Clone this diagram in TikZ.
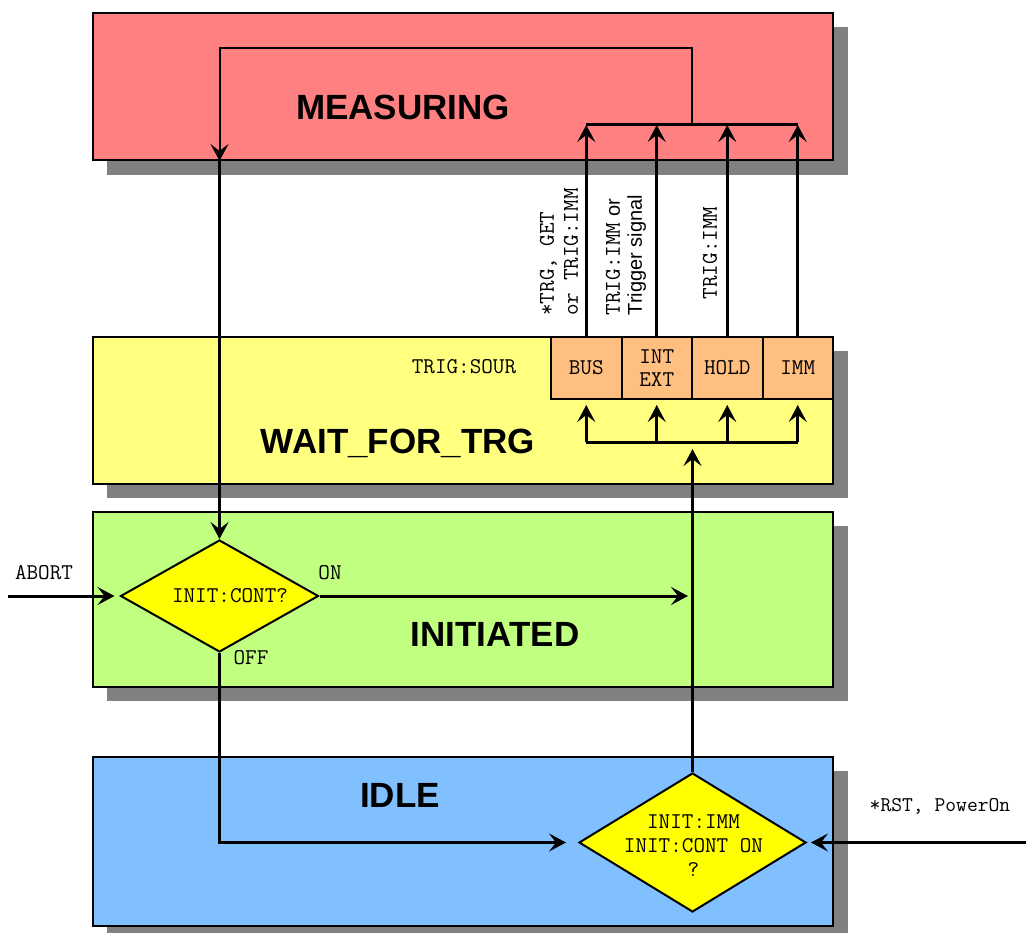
\documentclass[tikz,border=0pt]{standalone}
\usepackage{fontspec}
\setsansfont{Liberation Sans}
\usetikzlibrary{arrows.meta,shapes.geometric}
\definecolor{measred}{HTML}{FF8080}
\definecolor{waityellow}{HTML}{FFFF80}
\definecolor{initgreen}{HTML}{C0FF80}
\definecolor{idleblue}{HTML}{80C0FF}
\definecolor{diamondyellow}{HTML}{FFFF00}
\definecolor{trigorange}{HTML}{FFBF80}
\definecolor{shadowgray}{HTML}{808080}
\tikzset{
  statebox/.style={draw=black, line width=2pt, minimum width=740pt, inner sep=0pt},
  titletext/.style={font=\sffamily\bfseries\fontsize{35}{42}\selectfont},
  mono/.style={font=\ttfamily\fontsize{22.5}{24}\selectfont},
  conn/.style={line width=3pt},
  loopline/.style={line width=2pt},
  arr/.style={-{Stealth[length=17pt,width=18pt,inset=7pt]}},
  trigbox/.style={draw, line width=2pt, fill=trigorange, minimum width=70.5pt, minimum height=62pt, inner sep=0pt, mono},
  decision/.style={diamond, draw, line width=2pt, fill=diamondyellow, inner sep=0pt},
}
\begin{document}
\begin{tikzpicture}[x=1pt,y=-1pt]
\useasboundingbox (0,0) rectangle (1026,933);
% shadows
\fill[shadowgray] (107,27) rectangle (848,175);
\fill[shadowgray] (107,351) rectangle (848,498);
\fill[shadowgray] (107,526) rectangle (848,701);
\fill[shadowgray] (107,771) rectangle (848,945);
% state boxes
\node[statebox, fill=measred, minimum height=147pt] (meas) at (463,86.5) {};
\node[statebox, fill=waityellow, minimum height=147pt] (wait) at (463,410.5) {};
\node[statebox, fill=initgreen, minimum height=175pt] (init) at (463,599.5) {};
\node[statebox, fill=idleblue, minimum height=169pt] (idle) at (463,841.5) {};
% titles
\node[titletext] (tmeas) at (403,107) {MEASURING};
\node[titletext] (twait) at (398,443) {WAIT\_FOR\_TRG};
\node[titletext] (tinit) at (495,634) {INITIATED};
\node[titletext] (tidle) at (400,795) {IDLE};
% trigger source
\node[mono] (sour) at (464,367) {TRIG:SOUR};
\node[trigbox] (bus) at (586.25,368) {BUS};
\node[trigbox, align=center, font=\ttfamily\fontsize{22.5}{23}\selectfont] (intext) at (656.75,368) {INT\\EXT};
\node[trigbox] (hold) at (727.25,368) {HOLD};
\node[trigbox] (imm) at (797.75,368) {IMM};
% decisions
\node[decision, minimum width=198pt, minimum height=112pt] (d1) at (219.5,596) {};
\node[mono] (d1t) at (230,596) {INIT:CONT?};
\node[decision, minimum width=227pt, minimum height=139pt] (d2) at (692.5,842.5) {};
\node[mono, align=center] (d2t) at (693.5,846) {INIT:IMM\\INIT:CONT ON\\?};
% labels
\node[mono] (labort) at (44,573) {ABORT};
\node[mono] (lon) at (330,573) {ON};
\node[mono] (loff) at (251,658) {OFF};
\node[mono, font=\ttfamily\fontsize{21}{24}\selectfont] (lrst) at (940,806) {*RST, PowerOn};
\node[mono, rotate=90, align=left] (lbus) at (559,252) {*TRG, GET\\or TRIG:IMM};
\node[rotate=90, align=left, font=\sffamily\fontsize{20}{22}\selectfont] (lint) at (626,255) {{\ttfamily\fontsize{22.5}{22}\selectfont TRIG:IMM} or\\Trigger signal};
\node[mono, rotate=90] (limm) at (710,253) {TRIG:IMM};
% coordinates
\coordinate (topbar) at (0,125);
\coordinate (looptop) at (0,48);
\coordinate (loopr) at (692,125);
\coordinate (botbar) at (0,442);
\coordinate (trigbot) at (0,405);
\coordinate (busin) at (0,449);
\coordinate (ontip) at (688,596);
\coordinate (aborts) at (8,596);
\coordinate (rsts) at (1026,842.5);
% connectors to MEASURING
\foreach \b in {bus,intext,hold,imm}{
  \draw[conn, arr] (\b.north) -- (\b.north |- topbar);
}
\draw[conn] (bus.north |- topbar) -- (imm.north |- topbar);
\draw[loopline, arr] (loopr) -- (loopr |- looptop) -- (d1.north |- looptop) -- (d1.north |- meas.south);
\draw[conn, arr] (d1.north |- meas.south) -- (d1.north);
% bus below trigger sources
\draw[conn] (bus.south |- botbar) -- (imm.south |- botbar);
\foreach \b in {bus,intext,hold,imm}{
  \draw[conn, arr] (\b.south |- botbar) -- (\b.south |- trigbot);
}
\draw[conn, arr] (d2.north) -- (d2.north |- busin);
% other connectors
\draw[conn, arr] (d1.east) -- (ontip);
\draw[conn, arr] (d1.south) -- (d1.south |- d2.west) -- ([xshift=-12pt]d2.west);
\draw[conn, arr] (aborts) -- ([xshift=-5pt]d1.west);
\draw[conn, arr] (rsts) -- ([xshift=4pt]d2.east);
\end{tikzpicture}
\end{document}
